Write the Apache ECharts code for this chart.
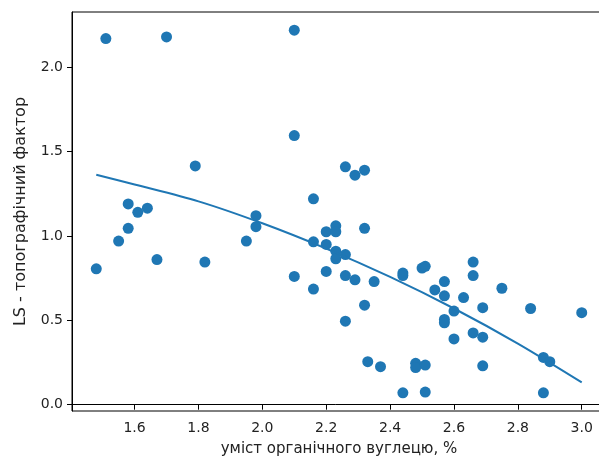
<!DOCTYPE html>
<html>
<head>
<meta charset="utf-8">
<script src="https://cdn.jsdelivr.net/npm/echarts@6/dist/echarts.min.js"></script>
<style>
  html, body { margin: 0; padding: 0; background: #fff; }
  #chart { width: 599px; height: 458px; }
</style>
</head>
<body>
<div id="chart"></div>
<script>
// вміст органічного вуглецю, %
const carbon = [
  1.48, 1.51, 1.55, 1.58, 1.58, 1.61, 1.64, 1.67, 1.70, 1.79,
  1.82, 1.95, 1.98, 1.98, 2.10, 2.10, 2.10, 2.16, 2.16, 2.16,
  2.20, 2.20, 2.20, 2.23, 2.23, 2.23, 2.23, 2.26, 2.26, 2.26,
  2.26, 2.29, 2.29, 2.32, 2.32, 2.32, 2.33, 2.35, 2.37, 2.44,
  2.44, 2.44, 2.48, 2.48, 2.50, 2.51, 2.51, 2.51, 2.54, 2.57,
  2.57, 2.57, 2.57, 2.60, 2.60, 2.63, 2.66, 2.66, 2.66, 2.69,
  2.69, 2.69, 2.75, 2.84, 2.88, 2.88, 2.90, 3.00
];
// LS - топографічний фактор
const lsFactor = [
  0.805, 2.17, 0.97, 1.19, 1.045, 1.14, 1.165, 0.86, 2.18, 1.415,
  0.845, 0.97, 1.12, 1.055, 2.22, 1.595, 0.76, 1.22, 0.965, 0.685,
  1.025, 0.95, 0.79, 1.06, 1.025, 0.91, 0.865, 1.41, 0.89, 0.765,
  0.495, 1.36, 0.74, 1.39, 1.045, 0.59, 0.255, 0.73, 0.225, 0.78,
  0.765, 0.07, 0.245, 0.22, 0.81, 0.82, 0.235, 0.075, 0.68, 0.73,
  0.645, 0.505, 0.485, 0.555, 0.39, 0.635, 0.845, 0.765, 0.425, 0.575,
  0.40, 0.23, 0.69, 0.57, 0.28, 0.07, 0.255, 0.545
];
// лінія тренду
const fitX = [1.48, 1.6, 1.8, 2.0, 2.2, 2.4, 2.6, 2.8, 3.0];
const fitY = [1.363, 1.305, 1.205, 1.075, 0.925, 0.757, 0.57, 0.362, 0.132];

const xTicks = [1.6, 1.8, 2.0, 2.2, 2.4, 2.6, 2.8, 3.0];
const yTicks = [0.0, 0.5, 1.0, 1.5, 2.0];

const font = 'DejaVu Sans';
const textColor = '#222';

const chart = echarts.init(document.getElementById('chart'));

const option = {
  animation: false,
  textStyle: { fontFamily: font },
  grid: {
    left: 72,
    top: 12,
    width: 534,
    height: 399,
    outerBoundsMode: 'none',
    containLabel: false,
    show: true,
    borderColor: '#000',
    borderWidth: 1
  },
  xAxis: {
    type: 'value',
    min: 1.404,
    max: 3.076,
    name: 'уміст органічного вуглецю, %',
    nameLocation: 'middle',
    nameGap: 31,
    nameTextStyle: { fontFamily: font, fontSize: 15, color: textColor },
    axisLine: { lineStyle: { color: '#000', width: 1 } },
    axisTick: { show: true, length: 5, customValues: xTicks, lineStyle: { color: '#000' } },
    axisLabel: {
      customValues: xTicks,
      margin: 10,
      fontFamily: font,
      fontSize: 14,
      color: textColor,
      formatter: v => v.toFixed(1)
    },
    splitLine: { show: false }
  },
  yAxis: {
    type: 'value',
    min: -0.0375,
    max: 2.3275,
    name: 'LS - топографічний фактор',
    nameLocation: 'middle',
    nameGap: 43,
    nameTextStyle: { fontFamily: font, fontSize: 16, color: textColor },
    axisLine: { show: true, lineStyle: { color: '#000', width: 1 } },
    axisTick: { show: true, length: 5, customValues: yTicks, lineStyle: { color: '#000' } },
    axisLabel: {
      customValues: yTicks,
      margin: 9,
      fontFamily: font,
      fontSize: 14,
      color: textColor,
      formatter: v => v.toFixed(1)
    },
    splitLine: { show: false }
  },
  series: [
    {
      type: 'scatter',
      data: carbon.map((x, i) => [x, lsFactor[i]]),
      symbolSize: 11,
      itemStyle: { color: '#1f77b4', opacity: 1 }
    },
    {
      type: 'line',
      data: fitX.map((x, i) => [x, fitY[i]]),
      smooth: 0.3,
      showSymbol: false,
      lineStyle: { color: '#1f77b4', width: 2 },
      z: 3
    }
  ]
};
chart.setOption(option);
</script>
</body>
</html>
